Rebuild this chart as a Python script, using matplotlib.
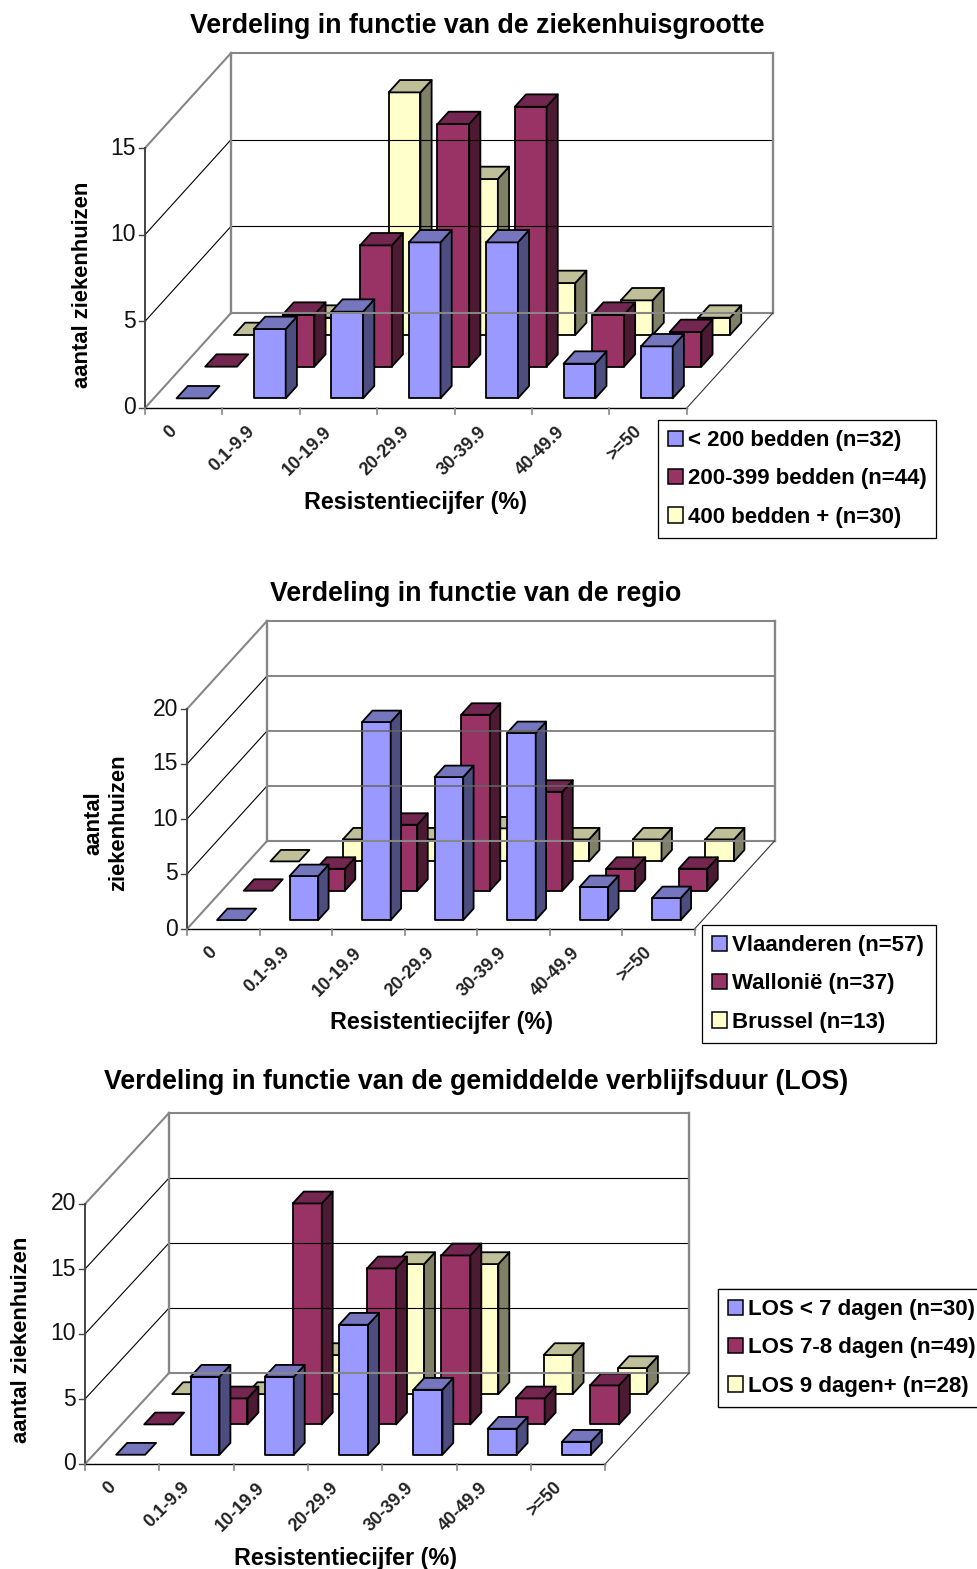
import matplotlib
matplotlib.use("Agg")
import matplotlib.pyplot as plt
from matplotlib.patches import Patch, Polygon

plt.rcParams['font.family'] = ['Liberation Sans', 'DejaVu Sans']

W, H = 978, 1569

categories = ['0', '0.1-9.9', '10-19.9', '20-29.9', '30-39.9', '40-49.9', '>=50']

# ziekenhuisgrootte
beds_small = [0, 4, 5, 9, 9, 2, 3]
beds_mid = [0, 3, 7, 14, 15, 3, 2]
beds_large = [0, 1, 14, 9, 3, 2, 1]
beds_labels = ['< 200 bedden (n=32)', '200-399 bedden (n=44)', '400 bedden + (n=30)']

# regio
region_vl = [0, 4, 18, 13, 17, 3, 2]
region_wa = [0, 2, 6, 16, 9, 2, 2]
region_br = [0, 2, 2, 3, 2, 2, 2]
region_labels = ['Vlaanderen (n=57)', 'Wallonië (n=37)', 'Brussel (n=13)']

# verblijfsduur
los_short = [0, 6, 6, 10, 5, 2, 1]
los_mid = [0, 2, 17, 12, 13, 2, 3]
los_long = [0, 0, 3, 10, 10, 3, 2]
los_labels = ['LOS < 7 dagen (n=30)', 'LOS 7-8 dagen (n=49)', 'LOS 9 dagen+ (n=28)']

# front, side, top
colors = [
    ('#9999FF', '#4D4D80', '#7676BF'),
    ('#993366', '#4D1A33', '#732650'),
    ('#FFFFCC', '#808066', '#BFBF99'),
]

WALL = '#868686'


def project(g, cat, val, depth):
    # oblique projection: floor runs up and to the right with depth
    x = g['x0'] + cat * g['cell'] + depth * g['dx']
    y = g['y0'] - val * g['unit'] - depth * g['dy']
    return x, H - y


def line(ax, p, q, color='black', lw=0.8):
    ax.plot([p[0], q[0]], [p[1], q[1]], color=color, lw=lw, solid_capstyle='projecting')


def draw_frame(ax, g):
    n = len(categories)
    top = g['ymax']
    for v in range(5, top, 5):
        line(ax, project(g, 0, v, 0), project(g, 0, v, 1), lw=0.8)
        line(ax, project(g, 0, v, 1), project(g, n, v, 1), color=g['grid'], lw=g['grid_lw'])

    line(ax, project(g, 0, 0, 0), project(g, 0, 0, 1), WALL, 1.5)
    line(ax, project(g, 0, top, 0), project(g, 0, top, 1), WALL, 1.5)
    line(ax, project(g, 0, 0, 1), project(g, 0, top, 1), WALL, 1.7)
    line(ax, project(g, 0, top, 1), project(g, n, top, 1), WALL, 1.5)
    line(ax, project(g, n, 0, 1), project(g, n, top, 1), WALL, 1.7)
    line(ax, project(g, 0, 0, 1), project(g, n, 0, 1), WALL, 1.5)
    line(ax, project(g, n, 0, 0), project(g, n, 0, 1), '#333333', 0.8)
    line(ax, project(g, 0, 0, 0), project(g, n, 0, 0), 'black', 1.0)
    line(ax, project(g, 0, 0, 0), project(g, 0, top, 0), '#444444', 1.4)

    for v in range(0, top + 1, 5):
        x, y = project(g, 0, v, 0)
        ax.plot([x - 6, x], [y, y], color='#444444', lw=1.0)
        ax.text(x - 9, y, str(v), ha='right', va='center', fontsize=16.5, color='#111111')

    for k in range(n + 1):
        x, y = project(g, k, 0, 0)
        ax.plot([x, x], [y, y - 6], color=WALL, lw=1.2)

    for k, label in enumerate(categories):
        x, y = project(g, k + 0.5, 0, 0)
        ax.text(x - 9, y - 21, label, rotation=45, rotation_mode='anchor',
                ha='right', va='center', fontsize=13, fontweight='bold', color='#222222')


def draw_bars(ax, g, series):
    w = g['bar']
    # back row first, so front rows overlap it
    for s in range(len(series) - 1, -1, -1):
        front, side, roof = colors[s]
        d0 = (s + 0.5) / 3 - 0.065
        d1 = (s + 0.5) / 3 + 0.065
        for k, val in enumerate(series[s]):
            c0 = k + (1 - w) / 2
            c1 = c0 + w
            style = dict(edgecolor='black', lw=1.3, joinstyle='round')
            if val > 0:
                ax.add_patch(Polygon([project(g, c0, 0, d0), project(g, c1, 0, d0),
                                      project(g, c1, val, d0), project(g, c0, val, d0)],
                                     facecolor=front, **style))
                ax.add_patch(Polygon([project(g, c1, 0, d0), project(g, c1, 0, d1),
                                      project(g, c1, val, d1), project(g, c1, val, d0)],
                                     facecolor=side, **style))
            ax.add_patch(Polygon([project(g, c0, val, d0), project(g, c1, val, d0),
                                  project(g, c1, val, d1), project(g, c0, val, d1)],
                                 facecolor=roof, **style))


def draw_legend(fig, ax, labels, box):
    x, y, w, h = box
    handles = [Patch(facecolor=c[0], edgecolor='black', lw=1.1, label=t)
               for c, t in zip(colors, labels)]
    leg = ax.legend(handles=handles, loc='upper left', mode='expand', ncols=1,
                    bbox_to_anchor=(x / W, 1 - (y + h) / H, w / W, h / H),
                    bbox_transform=fig.transFigure, borderaxespad=0, frameon=True,
                    fancybox=False, edgecolor='black', framealpha=1,
                    prop=dict(weight='bold', size=16), handlelength=0.68,
                    handleheight=0.68, handletextpad=0.22, labelspacing=0.78,
                    borderpad=0.45)
    leg.get_frame().set_linewidth(0.9)
    ax.add_artist(leg)


def draw_chart(fig, ax, g, series, labels):
    draw_frame(ax, g)
    draw_bars(ax, g, series)
    ax.text(g['title'][0], H - g['title'][1], g['title'][2], ha='center', va='center',
            fontsize=19.3, fontweight='bold')
    ax.text(g['xlabel'][0], H - g['xlabel'][1], 'Resistentiecijfer (%)', ha='center',
            va='center', fontsize=16.8, fontweight='bold')
    ax.text(g['ylabel'][0], H - g['ylabel'][1], g['ylabel'][2], rotation=90, ha='center',
            va='center', fontsize=15.8, fontweight='bold', linespacing=1.25)
    draw_legend(fig, ax, labels, g['legend'])


beds_geom = dict(x0=145, y0=408, cell=77.4, dx=86, dy=95, unit=17.33, ymax=15, bar=0.41,
                 grid='black', grid_lw=0.8,
                 title=(477, 26, 'Verdeling in functie van de ziekenhuisgrootte'),
                 xlabel=(415, 503), ylabel=(82, 285, 'aantal ziekenhuizen'),
                 legend=(658, 420, 278, 116))
region_geom = dict(x0=187, y0=929, cell=72.5, dx=80, dy=88, unit=11, ymax=20, bar=0.395,
                   grid='#666666', grid_lw=1.1,
                   title=(476, 594, 'Verdeling in functie van de regio'),
                   xlabel=(441, 1023), ylabel=(106, 823, 'aantal\nziekenhuizen'),
                   legend=(702, 925, 234, 116))
los_geom = dict(x0=85, y0=1464, cell=74.3, dx=84, dy=91, unit=13, ymax=20, bar=0.39,
                grid='black', grid_lw=0.8,
                title=(476, 1082, 'Verdeling in functie van de gemiddelde verblijfsduur (LOS)'),
                xlabel=(345, 1559), ylabel=(22, 1340, 'aantal ziekenhuizen'),
                legend=(718, 1289, 262, 116))

fig = plt.figure(figsize=(W / 100, H / 100), dpi=100)
ax = fig.add_axes([0, 0, 1, 1])
ax.set_xlim(0, W)
ax.set_ylim(0, H)
ax.axis('off')

draw_chart(fig, ax, beds_geom, [beds_small, beds_mid, beds_large], beds_labels)
draw_chart(fig, ax, region_geom, [region_vl, region_wa, region_br], region_labels)
draw_chart(fig, ax, los_geom, [los_short, los_mid, los_long], los_labels)

fig.savefig('out.png', dpi=100)
